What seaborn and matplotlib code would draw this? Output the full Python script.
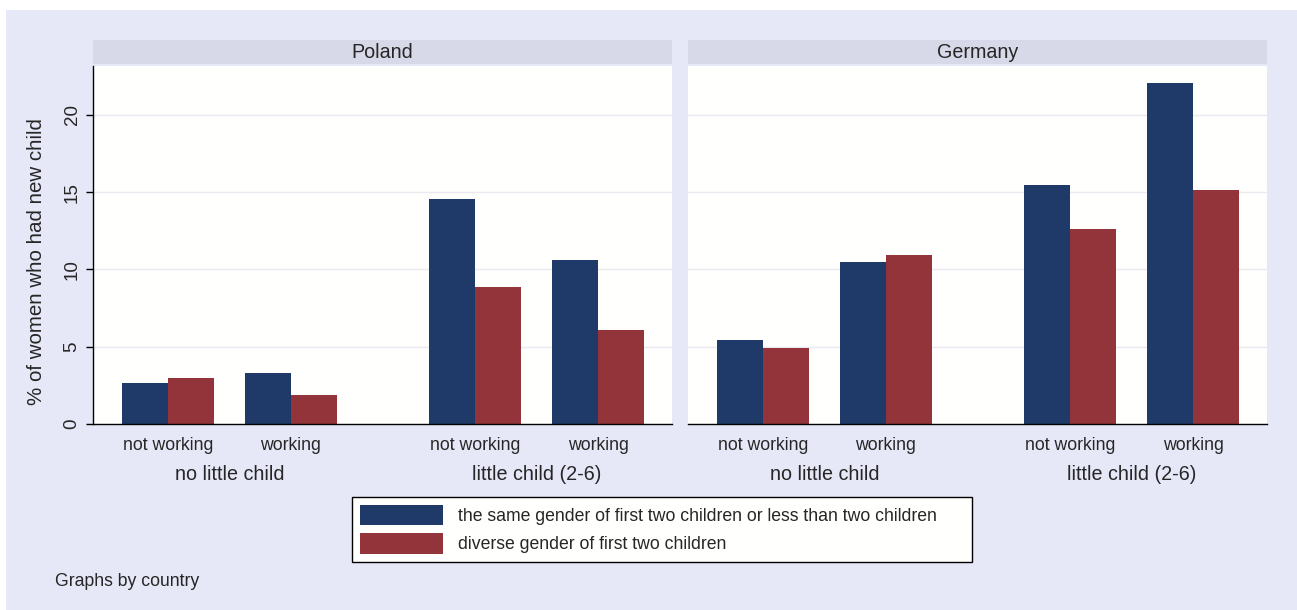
import pandas as pd
import matplotlib
matplotlib.use("Agg")
import matplotlib.pyplot as plt
import matplotlib.patches as mpatches
from matplotlib.transforms import blended_transform_factory
import seaborn as sns

# data
countries = ["Poland", "Germany"]
work_labels = ["not working", "working", "not working", "working"]
child_labels = ["no little child", "little child (2-6)"]
series = ["the same gender of first two children or less than two children",
          "diverse gender of first two children"]
poland_same = [2.65, 3.3, 14.56, 10.6]
poland_diverse = [2.97, 1.9, 8.87, 6.08]
germany_same = [5.44, 10.5, 15.5, 22.05]
germany_diverse = [4.9, 10.92, 12.6, 15.17]

positions = [0, 1, 2.5, 3.5]
group_centers = [0.5, 3.0]

values = {"Poland": (poland_same, poland_diverse),
          "Germany": (germany_same, germany_diverse)}

rows = []
for c in countries:
    same, diverse = values[c]
    for p, a, b in zip(positions, same, diverse):
        rows.append({"country": c, "pos": p, "series": series[0], "pct": a})
        rows.append({"country": c, "pos": p, "series": series[1], "pct": b})
df = pd.DataFrame(rows)

sns.set_theme(style="white")
plt.rcParams["font.family"] = ["Liberation Sans", "DejaVu Sans"]

BG = "#E6E7F7"
STRIP = "#D8D9E8"
BLUE = "#1F3A68"
RED = "#93333A"
palette = {series[0]: BLUE, series[1]: RED}

W, H = 1297, 610
fig = plt.figure(figsize=(W / 100, H / 100), dpi=100, facecolor=BG)

# white margin at top and left, as in the source image
fig.patches.append(mpatches.Rectangle((0, 1 - 10 / H), 1, 10 / H, transform=fig.transFigure,
                                      facecolor="white", edgecolor="none", zorder=0))
fig.patches.append(mpatches.Rectangle((0, 0), 6 / W, 1, transform=fig.transFigure,
                                      facecolor="white", edgecolor="none", zorder=0))

lefts = [93, 688]
pw = 579
for i, c in enumerate(countries):
    ax = fig.add_axes([lefts[i] / W, 1 - 424 / H, pw / W, 358 / H])
    ax.set_facecolor("#FFFFFD")
    sns.barplot(data=df[df["country"] == c], x="pos", y="pct", hue="series",
                hue_order=series, palette=palette, native_scale=True,
                width=0.75, dodge=True, errorbar=None, saturation=1,
                linewidth=0, legend=False, ax=ax)
    ax.set_xlim(-0.61, 4.1)
    ax.set_ylim(0, 23.17)
    ax.set_yticks([0, 5, 10, 15, 20])
    ax.yaxis.grid(True, color="#E9E9EF", linewidth=1)
    ax.set_axisbelow(True)
    ax.set_xticks(positions)
    ax.set_xticklabels(work_labels, fontsize=12.7)
    ax.tick_params(axis="x", length=0, pad=9)
    ax.set_xlabel("")
    for sp in ["top", "right"]:
        ax.spines[sp].set_visible(False)
    ax.spines["bottom"].set_color("black")
    ax.spines["bottom"].set_linewidth(1)
    trans = blended_transform_factory(ax.transData, ax.transAxes)
    for gx, gl in zip(group_centers, child_labels):
        ax.text(gx, -0.14, gl, transform=trans, ha="center", va="center", fontsize=14.2)
    if i == 0:
        ax.spines["left"].set_color("black")
        ax.spines["left"].set_linewidth(1)
        ax.tick_params(axis="y", left=True, length=5, width=1, color="black", pad=4,
                       labelsize=13.5)
        for t in ax.get_yticklabels():
            t.set_rotation(90)
            t.set_va("center")
        ax.set_ylabel("% of women who had new child", fontsize=14.8)
        ax.yaxis.set_label_coords(-0.082, 0.455)
    else:
        ax.spines["left"].set_visible(False)
        ax.set_yticklabels([])
        ax.tick_params(axis="y", left=False)
        ax.set_ylabel("")

    # header strip
    fig.patches.append(mpatches.Rectangle((lefts[i] / W, 1 - 64 / H), pw / W, 24 / H,
                                          transform=fig.transFigure, facecolor=STRIP,
                                          edgecolor="none", zorder=1))
    fig.text((lefts[i] + pw / 2) / W, 1 - 52.5 / H, c, ha="center", va="center", fontsize=14.2)

handles = [mpatches.Patch(facecolor=BLUE, edgecolor="none"),
           mpatches.Patch(facecolor=RED, edgecolor="none")]
leg = fig.legend(handles, series, loc="upper left",
                 bbox_to_anchor=(352 / W, 1 - 565 / H, 620 / W, 68 / H), mode="expand",
                 fontsize=12.7, frameon=True, fancybox=False, edgecolor="black",
                 facecolor="#FFFFFD", framealpha=1, handlelength=4.7, handleheight=1.4,
                 handletextpad=0.85, labelspacing=0.45, borderpad=0.45, borderaxespad=0)
leg.get_frame().set_linewidth(1)

fig.text(55 / W, 1 - 582 / H, "Graphs by country", ha="left", va="center", fontsize=12.7)

fig.savefig("out.png", dpi=100, facecolor=BG)
